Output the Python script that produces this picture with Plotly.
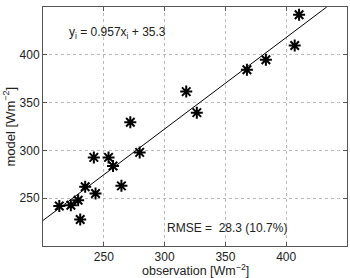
import plotly.graph_objects as go

obs = [213.4, 222.9, 228.9, 230.6, 234.7, 243.2, 241.8, 253.9, 257.6, 264.5,
       279.5, 271.8, 317.8, 326.5, 367.7, 383.3, 407.0, 410.6]
model = [241.9, 242.7, 247.9, 227.7, 261.9, 254.9, 292.7, 292.7, 283.6, 262.9,
         297.9, 329.4, 361.5, 339.5, 384.3, 394.8, 409.8, 441.9]
slope, intercept = 0.957, 35.3
fit_x = [200, (450 - intercept) / slope]
fit_y = [slope * x + intercept for x in fit_x]
x_ticks = [250, 300, 350, 400]
y_ticks = [250, 300, 350, 400]

fig = go.Figure()
fig.add_trace(go.Scatter(x=fit_x, y=fit_y, mode="lines",
                         line=dict(color="black", width=1), showlegend=False))
fig.add_trace(go.Scatter(x=obs, y=model, mode="markers",
                         marker=dict(symbol="asterisk-open", size=10, color="black",
                                     line=dict(color="black", width=2)),
                         showlegend=False))

axis_common = dict(showline=True, linecolor="#555", linewidth=1, mirror="ticks",
                   ticks="inside", ticklen=4, tickcolor="#555",
                   showgrid=True, gridcolor="#bbb", griddash="dot", gridwidth=1,
                   zeroline=False, tickfont=dict(size=12, color="#222"),
                   automargin=False)
fig.update_xaxes(range=[200, 450], tickvals=x_ticks, ticklabelstandoff=0, **axis_common)
fig.update_yaxes(range=[200, 450], tickvals=y_ticks, **axis_common)

fig.add_annotation(x=0.5, y=0, xref="paper", yref="paper", xanchor="center", yanchor="bottom",
                   yshift=-33, borderpad=0, text="observation [Wm<sup>−2</sup>]", showarrow=False,
                   font=dict(size=12.5, color="#222"))
fig.add_annotation(x=0, y=0.5, xref="paper", yref="paper", xanchor="right", yanchor="middle",
                   xshift=-24, textangle=-90, text="model [Wm<sup>−2</sup>]", showarrow=False,
                   font=dict(size=13, color="#222"))
fig.add_annotation(x=219.7, y=423, xref="x", yref="y", xanchor="left", yanchor="middle",
                   text="y<sub>i</sub> = 0.957x<sub>i</sub> + 35.3", showarrow=False,
                   font=dict(size=12, color="#222"))
fig.add_annotation(x=300, y=219, xref="x", yref="y", xanchor="left", yanchor="middle",
                   text="RMSE =  28.3 (10.7%)", showarrow=False,
                   font=dict(size=12, color="#222"))

fig.update_layout(width=350, height=278, margin=dict(l=43, r=3, t=7, b=32),
                  paper_bgcolor="white", plot_bgcolor="white",
                  font=dict(family="Liberation Sans, Arial, sans-serif"))
fig.write_html("out.html")
